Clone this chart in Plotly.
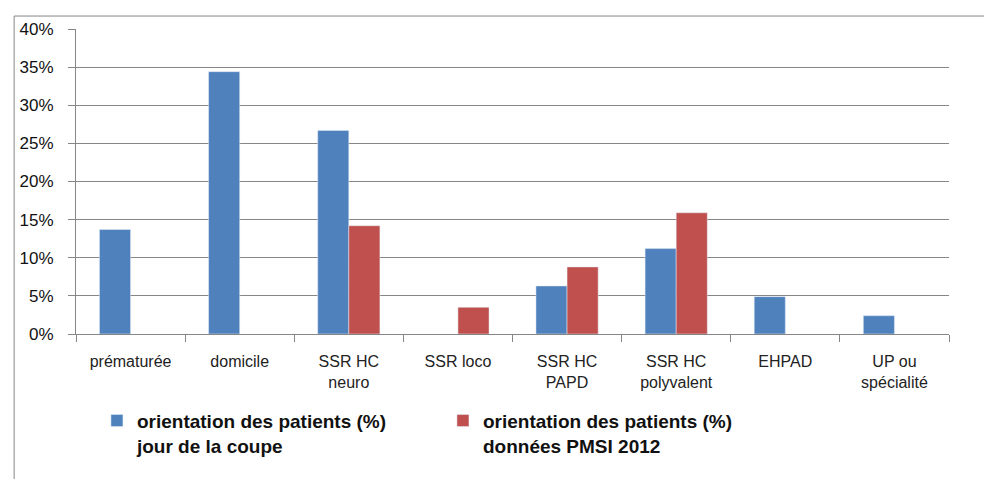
import plotly.graph_objects as go

categories = ["prématurée", "domicile", "SSR HC<br>neuro", "SSR loco", "SSR HC<br>PAPD",
              "SSR HC<br>polyvalent", "EHPAD", "UP ou<br>spécialité"]
jour_coupe = [13.7, 34.4, 26.7, None, 6.3, 11.2, 4.9, 2.4]
pmsi_2012 = [None, None, 14.2, 3.5, 8.8, 15.9, None, None]
series_names = ["orientation des patients (%)<br>jour de la coupe",
                "orientation des patients (%)<br>données PMSI 2012"]
y_ticks = [0, 5, 10, 15, 20, 25, 30, 35, 40]
y_ticklabels = [f"{t}%" for t in y_ticks]

blue = "#4F81BD"
red = "#C0504D"
grid = "#868686"

# page body has an 8px default margin: figure is drawn at (8, 8)
W, H = 984, 471
L, R, T, B = 66, 43, 20, 145
PH = H - T - B  # plot height (306)
PW = W - L - R  # plot width (875)

fig = go.Figure()
fig.add_trace(go.Bar(x=categories, y=jour_coupe, name=series_names[0], marker_color=blue))
fig.add_trace(go.Bar(x=categories, y=pmsi_2012, name=series_names[1], marker_color=red))

fig.update_layout(
    width=W, height=H,
    margin=dict(l=L, r=R, t=T, b=B),
    paper_bgcolor="white", plot_bgcolor="white",
    barmode="group", bargap=0.43, bargroupgap=0,
    font=dict(family="Liberation Sans", color="#222222"),
    showlegend=True,
    legend=dict(
        orientation="h", x=21 / PW, xanchor="left", y=-0.222, yanchor="top",
        font=dict(size=19, color="#111111", weight="bold"), valign="top",
        entrywidth=301, entrywidthmode="pixels",
        itemwidth=30, tracegroupgap=0,
    ),
    shapes=[
        dict(type="line", xref="paper", yref="paper",
             x0=-62 / PW, x1=(W - L + 10) / PW, y0=1 + 13 / PH, y1=1 + 13 / PH,
             line=dict(color=grid, width=1)),
        dict(type="line", xref="paper", yref="paper",
             x0=-62 / PW, x1=-62 / PW, y0=1 + 13 / PH, y1=-(B + 10) / PH,
             line=dict(color=grid, width=1)),
    ],
)
fig.update_yaxes(
    range=[0, 40], tickvals=y_ticks, ticktext=y_ticklabels,
    showgrid=True, gridcolor=grid, gridwidth=1,
    showline=True, linecolor=grid, linewidth=1,
    ticks="outside", ticklen=7, tickcolor=grid,
    tickfont=dict(size=17, color="#111111"), ticklabelstandoff=11,
    zeroline=False,
)
fig.update_xaxes(
    showline=True, linecolor=grid, linewidth=1,
    ticks="outside", ticklen=7, tickcolor=grid, tickson="boundaries",
    tickfont=dict(size=16, color="#222222"), ticklabelstandoff=13,
    tickangle=0,
)

fig.write_html("out.html")
